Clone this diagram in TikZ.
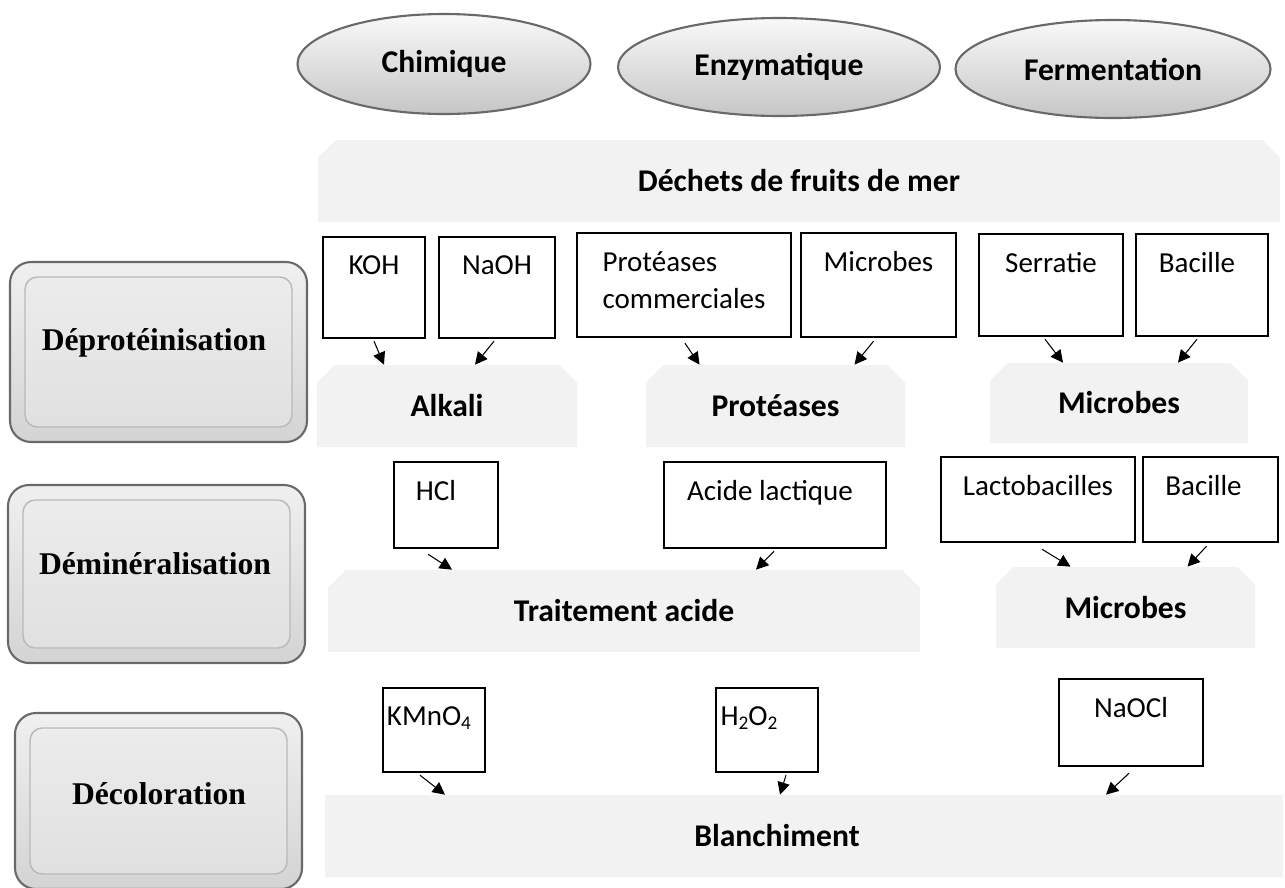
\documentclass[tikz,border=0pt]{standalone}
\usepackage{fontspec}
\setmainfont{Carlito}
\newfontfamily\stagefont{Liberation Serif}
\usetikzlibrary{arrows.meta, shapes.geometric, shapes.misc, calc}
\definecolor{panelgray}{RGB}{242,242,242}
\definecolor{rimgray}{RGB}{105,105,105}

\tikzset{
  wh/.style 2 args={minimum width=#1*0.02cm, minimum height=#2*0.02cm},
  method/.style={ellipse, draw=rimgray, line width=1.2pt, top color=gray!5,
    middle color=gray!18, bottom color=gray!45, inner sep=0pt,
    font=\fontsize{18}{22}\selectfont\bfseries},
  panel/.style={chamfered rectangle, chamfered rectangle corners={north west, north east},
    chamfered rectangle sep=5pt, fill=panelgray, inner sep=0pt,
    font=\fontsize{18}{22}\selectfont\bfseries},
  reagent/.style={draw, line width=1.4pt, fill=white, inner sep=0pt},
  reagtext/.style={anchor=north, yshift=-11pt, inner sep=0pt, align=left,
    font=\fontsize{16.5}{21}\selectfont},
  stageframe/.style={draw=rimgray, line width=1.2pt, rounded corners=12pt,
    top color=gray!12, bottom color=gray!34},
  stagebox/.style={draw=gray!55, line width=0.8pt, rounded corners=7pt,
    top color=gray!15, bottom color=gray!24},
  stagetext/.style={anchor=base, font=\stagefont\fontsize{18}{22}\selectfont\bfseries},
  arr/.style={-{Triangle[length=7pt,width=7pt]}, line width=0.6pt},
}

\begin{document}
\begin{tikzpicture}[x=0.02cm, y=-0.02cm]
\useasboundingbox (0,0) rectangle (1285,887);

% Voies de traitement
\node[method, wh={293}{100}] (chim) at (444,64) {Chimique};
\node[method, wh={322}{98}] (enz) at (779,67) {Enzymatique};
\node[method, wh={315}{98}] (ferm) at (1113,69) {Fermentation};

% Etapes
\node[stageframe, wh={297}{180}] (depframe) at (158.5,352) {};
\node[stagebox, wh={267}{150}] (depbox) at (depframe) {};
\node[stagetext] (deptxt) at (154,350) {Déprotéinisation};

\node[stageframe, wh={297}{178}] (demframe) at (156.5,574) {};
\node[stagebox, wh={267}{148}] (dembox) at (demframe) {};
\node[stagetext] (demtxt) at (155,574) {Déminéralisation};

\node[stageframe, wh={287}{176}] (decframe) at (158.5,801) {};
\node[stagebox, wh={257}{146}] (decbox) at (decframe) {};
\node[stagetext] (dectxt) at (159,804) {Décoloration};

% Matiere premiere
\node[panel, wh={962}{82}] (waste) at (799,181) {Déchets de fruits de mer};

% Deproteinisation
\node[reagent, wh={102}{101}, label={[reagtext]north:KOH}] (koh) at (374,287.5) {};
\node[reagent, wh={116}{101}, label={[reagtext]north:NaOH}] (naoh) at (497,287.5) {};
\node[reagent, wh={214}{104}, label={[reagtext]north:Protéases\\commerciales}] (protc) at (684,285) {};
\node[reagent, wh={155}{104}, label={[reagtext]north:Microbes}] (micb) at (878.5,285) {};
\node[reagent, wh={144}{102}, label={[reagtext]north:Serratie}] (serr) at (1051,285) {};
\node[reagent, wh={132}{102}, label={[reagtext, xshift=-0.1cm]north:Bacille}] (bacA) at (1202,285) {};

\node[panel, wh={260}{82}] (alkali) at (447,406) {Alkali};
\node[panel, wh={259}{82}] (prot) at (775.5,406) {Protéases};
\node[panel, wh={258}{80}] (micA) at (1119,403) {Microbes};

\draw[arr] ([shift={(0,2)}]koh.south) -- ([shift={(-63,0)}]alkali.north);
\draw[arr] ([shift={(-3,2)}]naoh.south) -- ([shift={(28,0)}]alkali.north);
\draw[arr] ([shift={(1,5)}]protc.south) -- ([shift={(-76,0)}]prot.north);
\draw[arr] ([shift={(-5,3)}]micb.south) -- ([shift={(79,0)}]prot.north);
\draw[arr] ([shift={(-6,2)}]serr.south) -- ([shift={(-56,0)}]micA.north);
\draw[arr] ([shift={(-5,2)}]bacA.south) -- ([shift={(59,0)}]micA.north);

% Demineralisation
\node[reagent, wh={104}{86}, label={[reagtext, xshift=-0.2cm]north:HCl}] (hcl) at (446,505) {};
\node[reagent, wh={222}{86}, label={[reagtext, xshift=-0.1cm]north:Acide lactique}] (lact) at (775,505) {};
\node[reagent, wh={194}{85}, label={[reagtext]north:Lactobacilles}] (lacto) at (1038,499.5) {};
\node[reagent, wh={135}{85}, label={[reagtext, xshift=-0.14cm]north:Bacille}] (bacB) at (1210.5,499.5) {};

\node[panel, wh={592}{82}] (acid) at (624,611) {Traitement acide};
\node[panel, wh={259}{81}] (micB) at (1125.5,607.5) {Microbes};

\draw[arr] ([shift={(-18,5)}]hcl.south) -- ([shift={(-172,0)}]acid.north);
\draw[arr] ([shift={(-1,2)}]lact.south) -- ([shift={(132,0)}]acid.north);
\draw[arr] ([shift={(4,6)}]lacto.south) -- ([shift={(-55,0)}]micB.north);
\draw[arr] ([shift={(-4,3)}]bacB.south) -- ([shift={(62,0)}]micB.north);

% Decoloration
\node[reagent, wh={102}{84}, label={[reagtext, xshift=-0.1cm]north:KMnO{\fontsize{11}{13}\selectfont\raisebox{-2.5pt}{4}}}] (kmno) at (434,730) {};
\node[reagent, wh={102}{84}, label={[reagtext, xshift=-0.36cm]north:H{\fontsize{11}{13}\selectfont\raisebox{-2.5pt}{2}}O{\fontsize{11}{13}\selectfont\raisebox{-2.5pt}{2}}}] (hoo) at (767,730) {};
\node[reagent, wh={144}{87}, label={[reagtext]north:NaOCl}] (naocl) at (1131,722.5) {};

\node[panel, wh={958}{82}, label={[xshift=-0.54cm, font=\fontsize{18}{22}\selectfont\bfseries]center:Blanchiment}] (blanch) at (804,836) {};

\draw[arr] ([shift={(-14,2)}]kmno.south) -- ([shift={(-359,0)}]blanch.north);
\draw[arr] ([shift={(19,2)}]hoo.south) -- ([shift={(-24,0)}]blanch.north);
\draw[arr] ([shift={(-2,6)}]naocl.south) -- ([shift={(302,0)}]blanch.north);

\end{tikzpicture}
\end{document}
